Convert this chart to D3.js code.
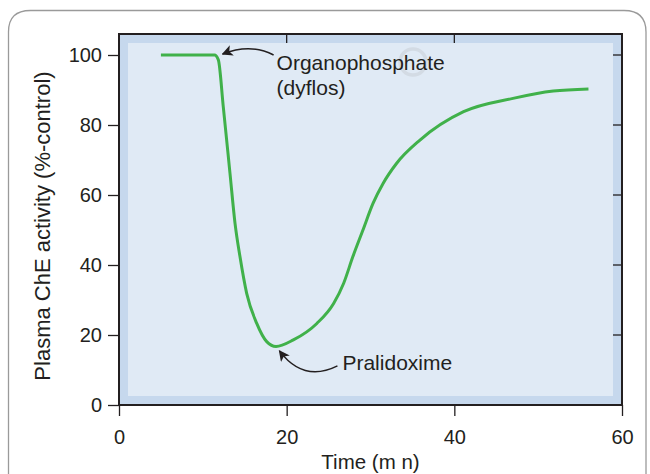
<!DOCTYPE html>
<html>
<head>
<meta charset="utf-8">
<script src="https://cdn.jsdelivr.net/npm/d3@7"></script>
<style>
  html, body { margin: 0; padding: 0; background: #ffffff; }
  svg { display: block; }
  text { font-family: "Liberation Sans", Arial, Helvetica, sans-serif; fill: #231f20; }
</style>
</head>
<body>
<svg id="chart" width="650" height="474"></svg>
<script>
// Plasma cholinesterase activity over time (minutes)
const timeMin = [5, 11.4, 11.85, 12.44, 13.24, 13.84, 14.43, 15.23, 16.43, 17.62, 18.73, 20.8, 23.6, 25.6, 26.8, 27.9, 29.1, 30.3, 31.5, 33.1, 35.9, 41.1, 47, 51.8, 56];
const chePct  = [100, 100, 98.6, 85.2, 66.2, 51.9, 42.4, 31.9, 23.3, 18.1, 16.7, 18.6, 23.3, 29, 34.8, 42.4, 50, 57.6, 63.3, 69, 75.7, 83.8, 87.6, 89.7, 90.3];

const xTicks = [0, 20, 40, 60];
const yTicks = [0, 20, 40, 60, 80, 100];

// Annotated events: [time, activity] pairs the arrows point at
const dosePoint = [12, 100];
const antidotePoint = [18.9, 16.6];

const svg = d3.select("#chart");

// Outer card with a rounded top
svg.append("path")
  .attr("d", "M8.5,480 L8.5,32 Q8.5,10.5 30.5,10.5 L624,10.5 Q646,10.5 646,32 L646,480")
  .attr("fill", "none")
  .attr("stroke", "#9a9a9a")
  .attr("stroke-width", 1.3);

const x = d3.scaleLinear().domain([0, 60]).range([119, 622]);
const y = d3.scaleLinear().domain([0, 100]).range([405, 55]);

const frameTop = 34, band = 9;
const left = x(0), right = x(60), bottom = y(0);

// Plot panel: darker blue band with lighter inner field
svg.append("rect")
  .attr("x", left).attr("y", frameTop)
  .attr("width", right - left).attr("height", bottom - frameTop)
  .attr("fill", "#c6d8ed");
svg.append("rect")
  .attr("x", left + band).attr("y", frameTop + band)
  .attr("width", right - left - 2 * band).attr("height", bottom - frameTop - 2 * band)
  .attr("fill", "#e0eaf5");

// Faint ring mark in the panel
svg.append("circle")
  .attr("cx", 413).attr("cy", 62).attr("r", 13)
  .attr("fill", "none").attr("stroke", "#d3dbe4").attr("stroke-width", 3.5);

// Mirrored inner ticks on the top and right edges
svg.append("g").selectAll("line").data(xTicks.slice(1, -1)).join("line")
  .attr("x1", d => x(d)).attr("x2", d => x(d))
  .attr("y1", frameTop).attr("y2", frameTop + band)
  .attr("stroke", "#231f20").attr("stroke-width", 1.3);
svg.append("g").selectAll("line").data(yTicks.slice(1)).join("line")
  .attr("x1", right - band).attr("x2", right)
  .attr("y1", d => y(d)).attr("y2", d => y(d))
  .attr("stroke", "#231f20").attr("stroke-width", 1.3);

// Frame
svg.append("rect")
  .attr("x", left).attr("y", frameTop)
  .attr("width", right - left).attr("height", bottom - frameTop)
  .attr("fill", "none").attr("stroke", "#231f20").attr("stroke-width", 2);

// Axes
const xAxis = svg.append("g")
  .attr("transform", `translate(0,${bottom})`)
  .call(d3.axisBottom(x).tickValues(xTicks).tickSize(11).tickPadding(14));
const yAxis = svg.append("g")
  .attr("transform", `translate(${left},0)`)
  .call(d3.axisLeft(y).tickValues(yTicks).tickSize(11).tickPadding(6));
[xAxis, yAxis].forEach(g => {
  g.select(".domain").remove();
  g.selectAll(".tick line").attr("stroke", "#231f20").attr("stroke-width", 1.3);
  g.selectAll(".tick text").attr("font-size", 20).attr("fill", "#231f20")
    .style("font-family", '"Liberation Sans", Arial, sans-serif');
});

// Axis titles
svg.append("text")
  .attr("x", (left + right) / 2).attr("y", 469)
  .attr("text-anchor", "middle").attr("font-size", 20.5)
  .text("Time (m n)");
svg.append("text")
  .attr("transform", "translate(50,226) rotate(-90)")
  .attr("text-anchor", "middle").attr("font-size", 22)
  .text("Plasma ChE activity (%-control)");

// Activity curve
const line = d3.line()
  .x((d, i) => x(timeMin[i]))
  .y(d => y(d))
  .curve(d3.curveMonotoneX);
svg.append("path")
  .datum(chePct)
  .attr("d", line)
  .attr("fill", "none")
  .attr("stroke", "#40b14a")
  .attr("stroke-width", 3)
  .attr("stroke-linejoin", "round")
  .attr("stroke-linecap", "butt");

// Arrowhead marker
svg.append("defs").append("marker")
  .attr("id", "arrow")
  .attr("viewBox", "0 0 10 10")
  .attr("refX", 9).attr("refY", 5)
  .attr("markerWidth", 11).attr("markerHeight", 11)
  .attr("markerUnits", "userSpaceOnUse")
  .attr("orient", "auto")
  .append("path")
  .attr("d", "M0,0 L10,5 L0,10 L2.5,5 Z")
  .attr("fill", "#231f20");

// Organophosphate annotation
const dx = x(dosePoint[0]) + 3, dy = y(dosePoint[1]) - 1;
svg.append("path")
  .attr("d", `M${dx + 51},${dy + 1} Q${dx + 28},${dy - 11} ${dx},${dy}`)
  .attr("fill", "none").attr("stroke", "#231f20").attr("stroke-width", 1.5)
  .attr("marker-end", "url(#arrow)");
svg.append("text")
  .attr("x", dx + 54).attr("y", dy + 16).attr("font-size", 21)
  .text("Organophosphate");
svg.append("text")
  .attr("x", dx + 54).attr("y", dy + 41).attr("font-size", 21)
  .text("(dyflos)");

// Pralidoxime annotation
const ax = x(antidotePoint[0]) + 2, ay = y(antidotePoint[1]) + 4;
svg.append("path")
  .attr("d", `M${ax + 58},${ay + 15} Q${ax + 24},${ay + 32} ${ax},${ay}`)
  .attr("fill", "none").attr("stroke", "#231f20").attr("stroke-width", 1.5)
  .attr("marker-end", "url(#arrow)");
svg.append("text")
  .attr("x", ax + 63).attr("y", ay + 19).attr("font-size", 21)
  .text("Pralidoxime");
</script>
</body>
</html>
